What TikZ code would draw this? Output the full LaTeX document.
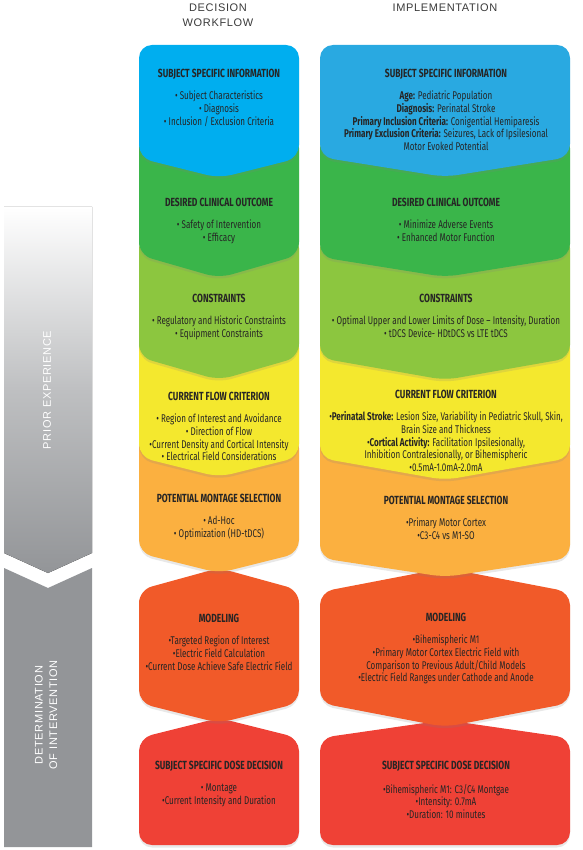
\documentclass[tikz,border=0pt]{standalone}
\usepackage{fontspec}
\setmainfont{Liberation Sans}
\newfontfamily\boxfont[FakeStretch=0.72]{Fira Sans}
\newfontfamily\capsfont[LetterSpace=6]{Liberation Sans}
\usetikzlibrary{shadows}

\definecolor{cBlueL}{HTML}{00AEEF}
\definecolor{cBlueR}{HTML}{29A9E1}
\definecolor{cGreen}{HTML}{3AB54A}
\definecolor{cLime}{HTML}{8CC63F}
\definecolor{cYellow}{HTML}{F4E82E}
\definecolor{cMont}{HTML}{FBB040}
\definecolor{cModel}{HTML}{F15A29}
\definecolor{cDose}{HTML}{EF4136}
\definecolor{cBar}{HTML}{939598}
\definecolor{cText}{HTML}{262525}
\definecolor{cHead}{HTML}{3A3A3A}

% stage shapes: colour, left x, right x, then the y values
\newcommand{\chevbox}[6]{%
  \fill[panel, #1] (#2,#4) -- (#3,#4) -- (#3,#5) -- ({(#2+#3)/2},#6) -- (#2,#5) -- cycle;}
\newcommand{\roofbox}[7]{%
  \fill[panel, #1] ({(#2+#3)/2},#4) -- (#3,#5) -- (#3,#6) -- ({(#2+#3)/2},#7) -- (#2,#6) -- (#2,#5) -- cycle;}
\newcommand{\roofbase}[6]{%
  \fill[panel, #1] ({(#2+#3)/2},#4) -- (#3,#5) -- (#3,#6) -- (#2,#6) -- (#2,#5) -- cycle;}
\newcommand{\boxtitle}[1]{{\bfseries\fontsize{11.8}{12.7}\selectfont #1}}

\begin{document}
\begin{tikzpicture}[
  x=1pt, y=-1pt,
  panel/.style={rounded corners=13pt, drop shadow={shadow xshift=0pt, shadow yshift=-2.5pt, opacity=.18}},
  boxtext/.style={font=\boxfont\fontsize{11.2}{12.7}\selectfont, text=cText, align=center, inner sep=0pt, anchor=north},
  sidelabel/.style={font=\capsfont\fontsize{11}{14.5}\selectfont, text=white, align=center, rotate=90},
  header/.style={font=\capsfont\fontsize{11}{14.5}\selectfont, text=cHead, align=center}
]
  \useasboundingbox (0,0) rectangle (582,850);

  % side bar
  \fill[top color=white, bottom color=cBar, middle color=cBar!60] (4,207) -- (92,207) -- (92,553) -- (48,573) -- (4,553) -- cycle;
  \fill[cBar] (4,568) -- (48,588) -- (92,568) -- (92,847) -- (4,847) -- cycle;
  \node[sidelabel] (prior) at (47,390) {PRIOR EXPERIENCE};
  \node[sidelabel] (determ) at (46,715) {DETERMINATION\\OF INTERVENTION};

  % headers
  \node[header] (workflow) at (218,15) {DECISION\\WORKFLOW};
  \node[header] (implem) at (445,8) {IMPLEMENTATION};

  % decision workflow column (drawn bottom up)
  \roofbase{cDose}{139}{299}{718}{738}{845}
  \roofbox{cModel}{139}{299}{568}{590}{703}{723}
  \chevbox{cMont}{139}{299}{435}{553}{573}
  \chevbox{cYellow}{139}{299}{335}{457}{477}
  \chevbox{cLime}{139}{299}{235}{357}{380}
  \chevbox{cGreen}{139}{299}{135}{255}{278}
  \chevbox{cBlueL}{139}{299}{45}{158}{178}

  % implementation column
  \roofbase{cDose}{320}{570}{720}{738}{845}
  \roofbox{cModel}{320}{570}{568}{592}{703}{727}
  \chevbox{cMont}{320}{570}{435}{558}{577}
  \chevbox{cYellow}{320}{570}{335}{458}{480}
  \chevbox{cLime}{320}{570}{235}{358}{380}
  \chevbox{cGreen}{320}{570}{135}{257}{277}
  \chevbox{cBlueR}{320}{570}{45}{157}{177}

  \node[boxtext] (infoL) at (219,69) {\boxtitle{SUBJECT SPECIFIC INFORMATION}\\[9.5pt]
    • Subject Characteristics\\ • Diagnosis\\ • Inclusion / Exclusion Criteria};
  \node[boxtext] (outcomeL) at (219,198) {\boxtitle{DESIRED CLINICAL OUTCOME}\\[9.5pt]
    • Safety of Intervention\\ • Efficacy};
  \node[boxtext] (constrL) at (219,294) {\boxtitle{CONSTRAINTS}\\[9.5pt]
    • Regulatory and Historic Constraints\\ • Equipment Constraints};
  \node[boxtext] (flowL) at (219,392) {\boxtitle{CURRENT FLOW CRITERION}\\[9.5pt]
    • Region of Interest and Avoidance\\ • Direction of Flow\\ •Current Density and Cortical Intensity\\ • Electrical Field Considerations};
  \node[boxtext] (montL) at (219,494) {\boxtitle{POTENTIAL MONTAGE SELECTION}\\[9.5pt]
    • Ad-Hoc\\ • Optimization (HD-tDCS)};
  \node[boxtext] (modelL) at (219,614) {\boxtitle{MODELING}\\[9.5pt]
    •Targeted Region of Interest\\ •Electric Field Calculation\\ •Current Dose Achieve Safe Electric Field};
  \node[boxtext] (doseL) at (219,761) {\boxtitle{SUBJECT SPECIFIC DOSE DECISION}\\[9.5pt]
    • Montage\\ •Current Intensity and Duration};

  \node[boxtext] (infoR) at (446,69) {\boxtitle{SUBJECT SPECIFIC INFORMATION}\\[9.5pt]
    \textbf{Age:} Pediatric Population\\ \textbf{Diagnosis:} Perinatal Stroke\\
    \textbf{Primary Inclusion Criteria:} Conigential Hemiparesis\\
    \textbf{Primary Exclusion Criteria:} Seizures, Lack of Ipsilesional\\ Motor Evoked Potential};
  \node[boxtext] (outcomeR) at (446,198) {\boxtitle{DESIRED CLINICAL OUTCOME}\\[9.5pt]
    • Minimize Adverse Events\\ • Enhanced Motor Function};
  \node[boxtext] (constrR) at (446,294) {\boxtitle{CONSTRAINTS}\\[9.5pt]
    • Optimal Upper and Lower Limits of Dose – Intensity, Duration\\ • tDCS Device- HDtDCS vs LTE tDCS};
  \node[boxtext] (flowR) at (446,390) {\boxtitle{CURRENT FLOW CRITERION}\\[9.5pt]
    •\textbf{Perinatal Stroke:} Lesion Size, Variability in Pediatric Skull, Skin,\\ Brain Size and Thickness\\
    •\textbf{Cortical Activity:} Facilitation Ipsilesionally,\\ Inhibition Contralesionally, or Bihemispheric\\ •0.5mA-1.0mA-2.0mA};
  \node[boxtext] (montR) at (446,496) {\boxtitle{POTENTIAL MONTAGE SELECTION}\\[9.5pt]
    •Primary Motor Cortex\\ •C3-C4 vs M1-SO};
  \node[boxtext] (modelR) at (446,613) {\boxtitle{MODELING}\\[9.5pt]
    •Bihemispheric M1\\ •Primary Motor Cortex Electric Field with\\ Comparison to Previous Adult/Child Models\\ •Electric Field Ranges under Cathode and Anode};
  \node[boxtext] (doseR) at (446,761) {\boxtitle{SUBJECT SPECIFIC DOSE DECISION}\\[11pt]
    •Bihemispheric M1: C3/C4 Montgae\\ •Intensity: 0.7mA\\ •Duration: 10 minutes};
\end{tikzpicture}
\end{document}
